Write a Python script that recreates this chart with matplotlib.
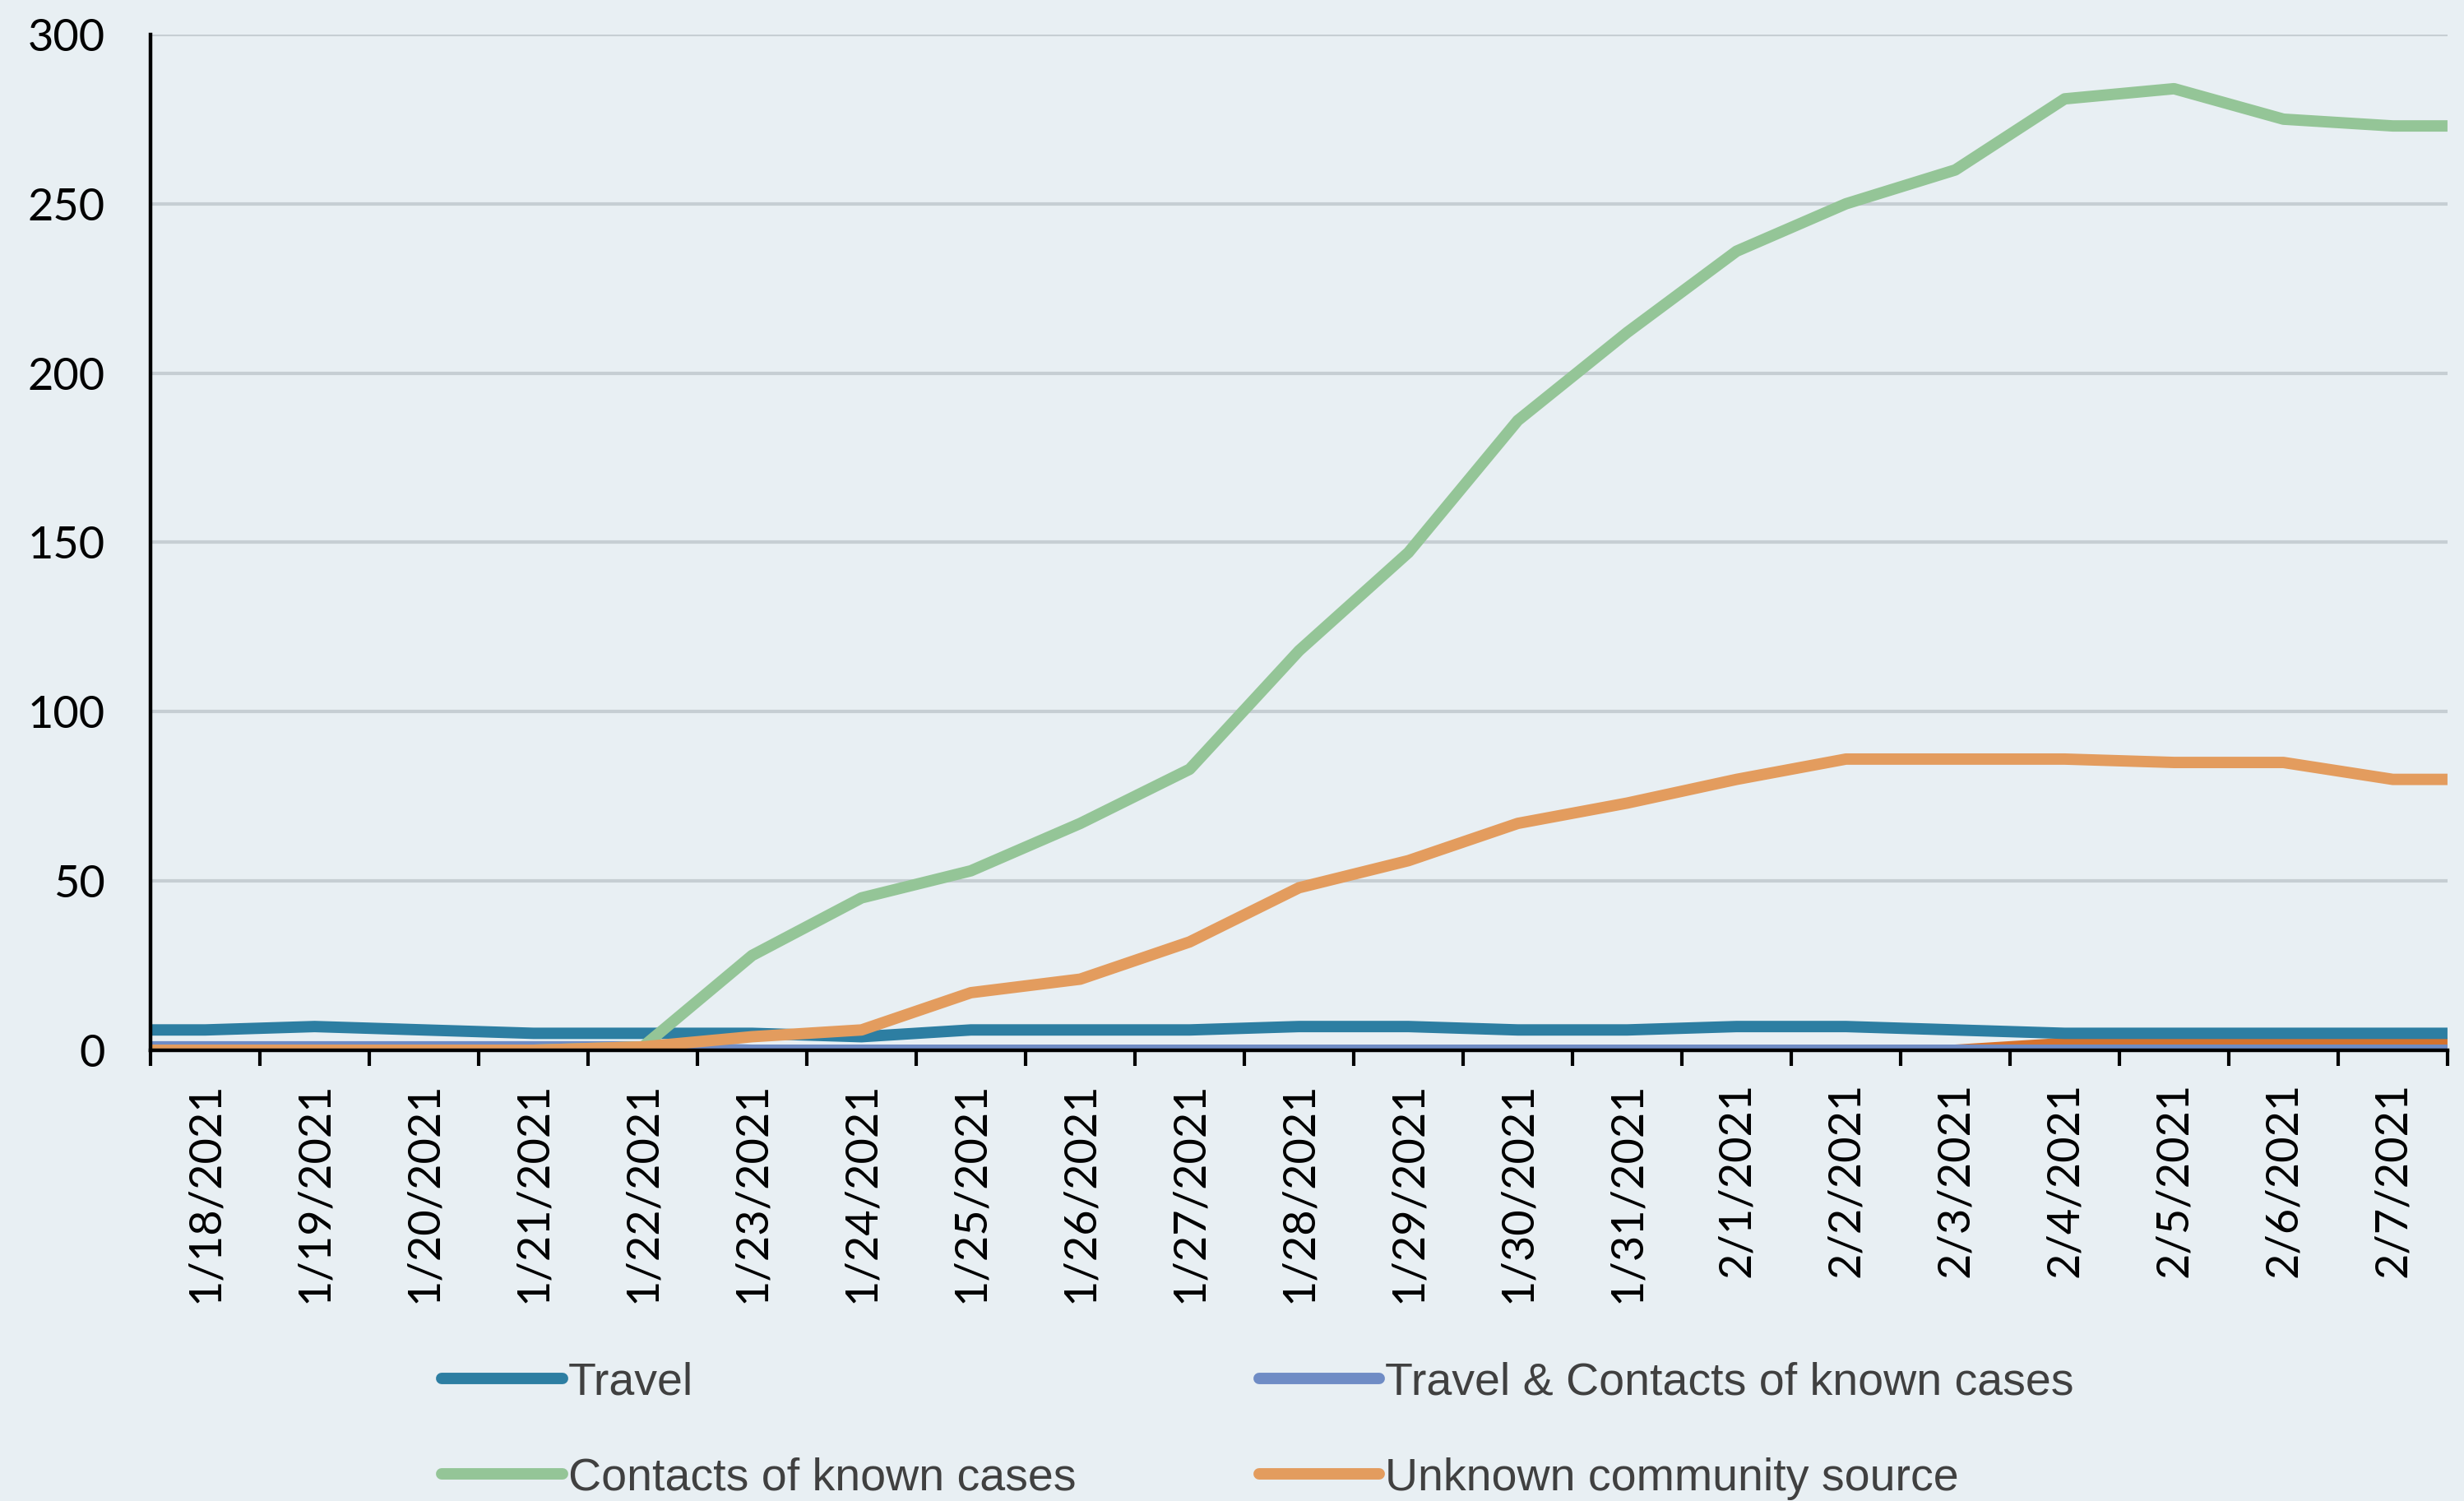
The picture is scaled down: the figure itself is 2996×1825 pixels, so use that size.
import numpy as np
import matplotlib
matplotlib.use("Agg")
import matplotlib.pyplot as plt

# Data
dates = ["1/18/2021", "1/19/2021", "1/20/2021", "1/21/2021", "1/22/2021",
         "1/23/2021", "1/24/2021", "1/25/2021", "1/26/2021", "1/27/2021",
         "1/28/2021", "1/29/2021", "1/30/2021", "1/31/2021", "2/1/2021",
         "2/2/2021", "2/3/2021", "2/4/2021", "2/5/2021", "2/6/2021", "2/7/2021"]
travel        = [6, 7, 6, 5, 5, 5, 4, 6, 6, 6, 7, 7, 6, 6, 7, 7, 6, 5, 5, 5, 5]
travel_contacts = [1, 1, 1, 1, 1, 0, 0, 0, 0, 0, 0, 0, 0, 0, 0, 0, 0, 0, 0, 0, 0]
contacts      = [0, 0, 0, 0, 1, 28, 45, 53, 67, 83, 118, 147, 186, 212, 236,
                 250, 260, 281, 284, 275, 273]
unknown       = [0, 0, 0, 0, 1, 4, 6, 17, 21, 32, 48, 56, 67, 73, 80,
                 86, 86, 86, 85, 85, 80]
other         = [0, 0, 0, 0, 0, 0, 0, 0, 0, 0, 0, 0, 0, 0, 0,
                 0, 0, 2, 2, 2, 2]

bg = "#E8EFF3"
fig = plt.figure(figsize=(29.96, 18.25), dpi=100, facecolor=bg)
ax = fig.add_axes([0.0611, 0.3003, 0.9322, 0.6767])
ax.set_facecolor(bg)

n = len(dates)
x = np.arange(n)
# lines run flat out to the plot edges, as in the original
xs = np.r_[-0.5, x, n - 0.5]

def pad(v):
    v = np.asarray(v, dtype=float)
    return np.r_[v[0], v, v[-1]]

lw = 10
style = dict(linewidth=lw, solid_joinstyle="round", solid_capstyle="butt")
ax.plot(xs, pad(other), color="#D5722E", zorder=3, label="_nolegend_", **style)
h2, = ax.plot(xs, pad(travel_contacts), color="#6F8CC5", zorder=4, **style)
h1, = ax.plot(xs, pad(travel), color="#2D7EA2", zorder=5, **style)
h3, = ax.plot(xs, pad(contacts), color="#94C597", zorder=6, **style)
h4, = ax.plot(xs, pad(unknown), color="#E39C5E", zorder=7, **style)

ax.set_xlim(-0.5, n - 0.5)
ax.set_ylim(0, 300)
ax.set_yticks(np.arange(0, 301, 50))
ax.grid(axis="y", color="#C6CED3", linewidth=3)
ax.set_axisbelow(True)

for side in ["top", "right"]:
    ax.spines[side].set_visible(False)
for side in ["left", "bottom"]:
    ax.spines[side].set_linewidth(3.2)
    ax.spines[side].set_color("black")
    ax.spines[side].set_zorder(10)

ax.set_xticks(x)
ax.set_xticklabels(dates, rotation=90, fontsize=39, family="Lato")
ax.set_xticks(np.arange(-0.5, n, 1), minor=True)
ax.tick_params(axis="x", which="major", length=0, pad=28)
ax.tick_params(axis="x", which="minor", length=14, width=3)
ax.tick_params(axis="y", length=0, pad=40)
for lab in ax.get_yticklabels():
    lab.set_fontsize(39)
    lab.set_family("Lato")

# legend fills by column, so order handles to get rows like the original
leg = fig.legend([h1, h3, h2, h4],
                 ["Travel", "Contacts of known cases",
                  "Travel & Contacts of known cases", "Unknown community source"],
                 ncol=2, loc="upper left", bbox_to_anchor=(0.1627, 0.1204),
                 frameon=False, handlelength=2.64, handletextpad=0.12,
                 columnspacing=4.0, labelspacing=1.16,
                 prop={"family": ["Liberation Sans Narrow", "Liberation Sans"], "size": 40},
                 labelcolor="#404040")
for line in leg.get_lines():
    line.set_solid_capstyle("round")

fig.savefig("out.png", dpi=100, facecolor=bg)
